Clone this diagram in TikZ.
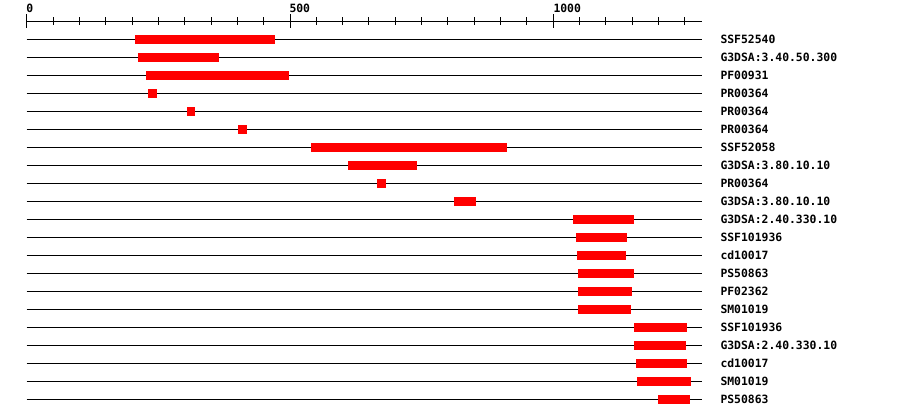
\documentclass[tikz,border=0pt]{standalone}
\usepackage{fontspec}
\newfontfamily\monob{DejaVu Sans Mono}[BoldFont={DejaVu Sans Mono Bold}]
\begin{document}
\begin{tikzpicture}[x=1pt,y=-1pt,line width=1pt,
  lbl/.style={anchor=base west,inner sep=0pt,font=\monob\bfseries\fontsize{11.4}{12}\selectfont},
  bar/.style={fill=red,draw=none},
  rowline/.style={draw=black,line width=1pt}]
\useasboundingbox[fill=white] (0,0) rectangle (900,418);
% axis
\draw (26.7,21.3) -- (701.7,21.3);
\foreach \i in {0,...,25}{
  \pgfmathsetmacro{\xx}{26.7+\i*26.33}
  \draw (\xx,17.3) -- (\xx,25);
}
\foreach \i in {0,10,20}{
  \pgfmathsetmacro{\xx}{26.7+\i*26.33}
  \draw (\xx,14) -- (\xx,28);
}
\node[lbl] (t0) at (26,12) {0};
\node[lbl] (t500) at (289,12) {500};
\node[lbl] (t1000) at (553,12) {1000};
% rows: start, end, label
\foreach \s/\e/\t [count=\r from 0] in {
  135/275/SSF52540,
  138/219/G3DSA:3.40.50.300,
  146/289/PF00931,
  148/157/PR00364,
  187/195/PR00364,
  238/247/PR00364,
  311/507/SSF52058,
  348/417/G3DSA:3.80.10.10,
  377/386/PR00364,
  454/476/G3DSA:3.80.10.10,
  573/634/G3DSA:2.40.330.10,
  576/627/SSF101936,
  577/626/cd10017,
  578/634/PS50863,
  578/632/PF02362,
  578/631/SM01019,
  634/687/SSF101936,
  634/686/G3DSA:2.40.330.10,
  636/687/cd10017,
  637/691/SM01019,
  658/690/PS50863}{
  \pgfmathsetmacro{\yy}{39.3+\r*18}
  \draw[rowline] (26.7,\yy) -- (701.7,\yy);
  \fill[bar] (\s,\yy-4.35) rectangle (\e,\yy+4.35);
  \node[lbl] (l\r) at (720,\yy+4) {\t};
}
\end{tikzpicture}
\end{document}
